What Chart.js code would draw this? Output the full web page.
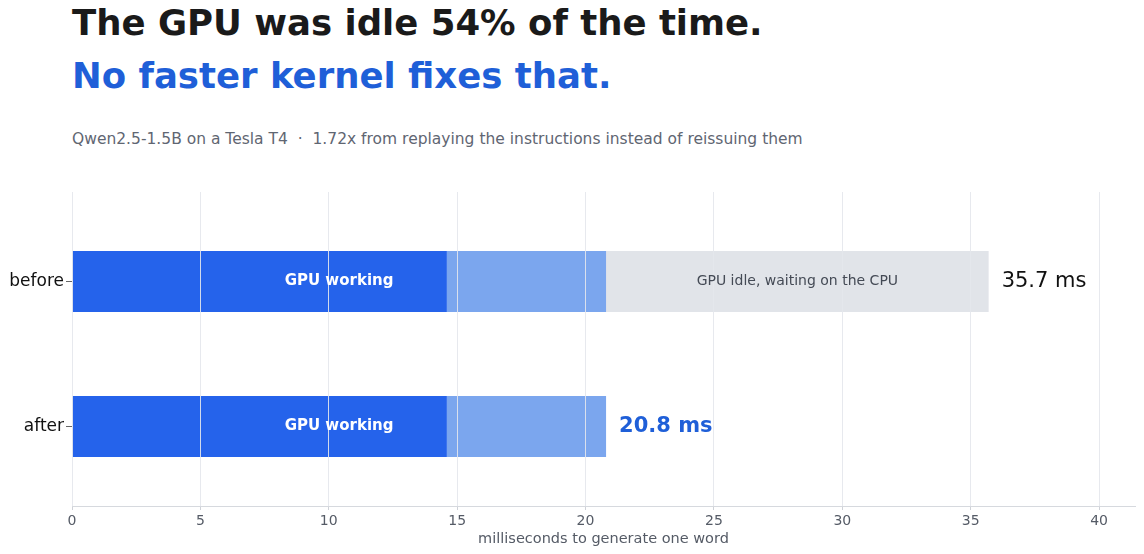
<!DOCTYPE html>
<html>
<head>
<meta charset="utf-8">
<script src="https://cdn.jsdelivr.net/npm/chart.js@4"></script>
<style>
  html, body { margin: 0; padding: 0; background: #fff; }
  body { width: 1144px; height: 554px; position: relative; overflow: hidden; font-family: "DejaVu Sans", sans-serif; }
  .t { position: absolute; left: 72px; white-space: pre; margin: 0; }
  #h1 { top: 5px; font-size: 35.5px; line-height: 36px; font-weight: bold; color: #1a1a1a; }
  #h2 { top: 58px; font-size: 35.5px; line-height: 36px; font-weight: bold; color: #1f5fd8; }
  #sub { top: 132px; font-size: 15.5px; line-height: 15px; color: #5f6672; }
  canvas { position: absolute; left: 0; top: 0; }
</style>
</head>
<body>
<div class="t" id="h1">The GPU was idle 54% of the time.</div>
<div class="t" id="h2">No faster kernel fixes that.</div>
<div class="t" id="sub">Qwen2.5-1.5B on a Tesla T4  ·  1.72x from replaying the instructions instead of reissuing them</div>
<canvas id="c" width="1144" height="554"></canvas>
<script>
// ---- data ----
const categories = ['before', 'after'];
const gpuComputeMs = [14.6, 14.6];
const gpuOtherMs = [6.2, 6.2];
const gpuIdleMs = [14.9, 0];
const totalLabels = ['35.7 ms', '20.8 ms'];
const workingLabel = 'GPU working';
const idleLabel = 'GPU idle, waiting on the CPU';
const xTickStep = 5;
const xMax = 41.4;
const xTitle = 'milliseconds to generate one word';

const FONT = '"DejaVu Sans", sans-serif';

const toPoints = arr => arr.map((v, i) => ({ x: v, y: i }));

const labelPlugin = {
  id: 'barLabels',
  afterDraw(chart) {
    const ctx = chart.ctx;
    const xs = chart.scales.x, ys = chart.scales.y;
    ctx.save();
    categories.forEach((cat, i) => {
      const y = ys.getPixelForValue(i);
      const working = gpuComputeMs[i] + gpuOtherMs[i];
      const total = working + gpuIdleMs[i];
      ctx.textBaseline = 'middle';
      ctx.textAlign = 'center';
      ctx.fillStyle = '#ffffff';
      ctx.font = 'bold 15px ' + FONT;
      ctx.fillText(workingLabel, xs.getPixelForValue(working / 2), y);
      if (gpuIdleMs[i] > 0) {
        ctx.fillStyle = '#444a55';
        ctx.font = '14px ' + FONT;
        ctx.fillText(idleLabel, xs.getPixelForValue(working + gpuIdleMs[i] / 2), y);
      }
      ctx.textAlign = 'left';
      if (i === 0) {
        ctx.fillStyle = '#111111';
        ctx.font = '21px ' + FONT;
      } else {
        ctx.fillStyle = '#1f5fd8';
        ctx.font = 'bold 21px ' + FONT;
      }
      ctx.fillText(totalLabels[i], xs.getPixelForValue(total) + 13, y);
    });
    ctx.restore();
  }
};

new Chart(document.getElementById('c'), {
  type: 'bar',
  data: {
    datasets: [
      { label: 'GPU compute', data: toPoints(gpuComputeMs), backgroundColor: '#2563eb' },
      { label: 'GPU other', data: toPoints(gpuOtherMs), backgroundColor: '#7ba6ee' },
      { label: 'GPU idle', data: toPoints(gpuIdleMs), backgroundColor: '#e1e4e9' }
    ]
  },
  options: {
    indexAxis: 'y',
    responsive: false,
    animation: false,
    devicePixelRatio: 1,
    layout: { padding: { top: 192, right: 9, left: 0, bottom: 0 } },
    datasets: { bar: { categoryPercentage: 1, barPercentage: 0.42, borderWidth: 0 } },
    plugins: { legend: { display: false }, tooltip: { enabled: false }, title: { display: false } },
    scales: {
      x: {
        type: 'linear',
        stacked: true,
        min: 0,
        max: xMax,
        afterFit(s) { s.height = 48; },
        ticks: { stepSize: xTickStep, includeBounds: false, color: '#555b66', font: { family: FONT, size: 14 }, padding: 3 },
        grid: { z: 1, color: 'rgba(228,231,236,0.9)', lineWidth: 1, tickLength: 4, tickColor: '#cfd2d8' },
        border: { display: true, color: '#d6d9de', z: 1 },
        title: { display: true, text: xTitle, color: '#555b66', font: { family: FONT, size: 14.5 }, padding: { top: 2, bottom: 6 } }
      },
      y: {
        type: 'linear',
        stacked: true,
        reverse: true,
        offset: false,
        min: -0.617,
        max: 1.548,
        afterFit(s) { s.width = 72; },
        afterBuildTicks(s) { s.ticks = categories.map((c, i) => ({ value: i })); },
        ticks: { callback: v => categories[v], color: '#111111', font: { family: FONT, size: 17 }, padding: 2 },
        grid: { offset: false, drawOnChartArea: false, drawTicks: true, tickLength: 6, tickColor: '#666666' },
        border: { display: false }
      }
    }
  },
  plugins: [labelPlugin]
});
</script>
</body>
</html>
